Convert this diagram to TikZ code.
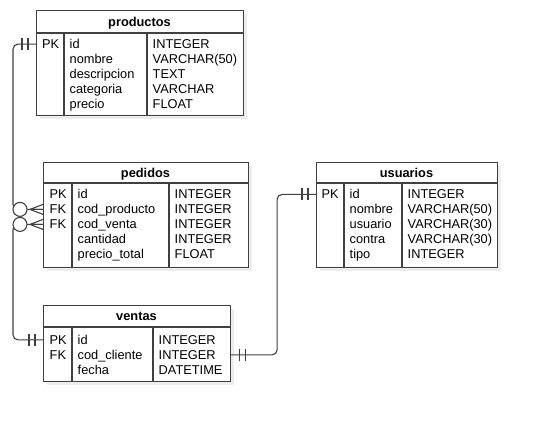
\documentclass[tikz,border=0pt]{standalone}
\usepackage{fontspec}
\setmainfont{Liberation Sans}
\definecolor{ercol}{RGB}{64,64,64}
\newcommand{\barmark}[2]{\draw[tick] ([xshift=#2]#1) ++(0,-6) -- ++(0,12);}
\newcommand{\zeromany}[1]{%
  \draw[tick] ([xshift=-13pt]#1) -- ([yshift=5pt]#1)
              ([xshift=-13pt]#1) -- (#1)
              ([xshift=-13pt]#1) -- ([yshift=-5pt]#1);
  \draw[tick,fill=white] ([xshift=-23pt]#1) circle (7pt);}
\begin{document}
\begin{tikzpicture}[x=1pt,y=-1pt,
    tbl/.style={draw=ercol,fill=white,line width=1.1pt,inner sep=0pt,anchor=north west},
    shade/.style={fill=black!7},
    cell/.style={inner sep=0pt,anchor=base west,font=\fontsize{12.8}{15}\selectfont},
    head/.style={inner sep=0pt,anchor=base,font=\bfseries\fontsize{12.8}{15}\selectfont},
    conn/.style={draw=ercol,line width=1.1pt,rounded corners=5pt},
    tick/.style={draw=ercol,line width=1.1pt}]
\useasboundingbox[fill=white] (0,0) rectangle (537,421);

% productos
\fill[shade] (40,14) rectangle (247,119);
\node[tbl,minimum width=207pt,minimum height=105pt] (prod) at (36,10) {};
\draw[tick] (36,33) -- (243,33) (64,33) -- (64,115) (147,33) -- (147,115);
\node[head] (prod-title) at (139.5,26) {productos};
\foreach \k/\n/\t [count=\i from 0] in {PK/id/INTEGER, /nombre/VARCHAR(50),
    /descripcion/TEXT, /categoria/VARCHAR, /precio/FLOAT}{
  \node[cell] (prod-k\i) at (42,48.5+15*\i) {\k};
  \node[cell] (prod-n\i) at (69.5,48.5+15*\i) {\n};
  \node[cell] (prod-t\i) at (152.5,48.5+15*\i) {\t};
}

% pedidos
\fill[shade] (47,166) rectangle (252,271);
\node[tbl,minimum width=205pt,minimum height=105pt] (ped) at (43,162) {};
\draw[tick] (43,183) -- (248,183) (72,183) -- (72,267) (169,183) -- (169,267);
\node[head] (ped-title) at (145.5,177) {pedidos};
\foreach \k/\n/\t [count=\i from 0] in {PK/id/INTEGER, FK/cod\_producto/INTEGER,
    FK/cod\_venta/INTEGER, /cantidad/INTEGER, /precio\_total/FLOAT}{
  \node[cell] (ped-k\i) at (49.5,198.8+15*\i) {\k};
  \node[cell] (ped-n\i) at (77.5,198.8+15*\i) {\n};
  \node[cell] (ped-t\i) at (174.5,198.8+15*\i) {\t};
}

% ventas
\fill[shade] (47,309) rectangle (234,385);
\node[tbl,minimum width=187pt,minimum height=76pt] (vent) at (43,305) {};
\draw[tick] (43,327) -- (230,327) (72,327) -- (72,381) (153,327) -- (153,381);
\node[head] (vent-title) at (136.5,320.5) {ventas};
\foreach \k/\n/\t [count=\i from 0] in {PK/id/INTEGER, FK/cod\_cliente/INTEGER,
    /fecha/DATETIME}{
  \node[cell] (vent-k\i) at (49.5,344.3+15*\i) {\k};
  \node[cell] (vent-n\i) at (77.5,344.3+15*\i) {\n};
  \node[cell] (vent-t\i) at (158.5,344.3+15*\i) {\t};
}

% usuarios
\fill[shade] (320,166) rectangle (501,271);
\node[tbl,minimum width=181pt,minimum height=105pt] (usua) at (316,162) {};
\draw[tick] (316,183) -- (497,183) (344,183) -- (344,267) (402,183) -- (402,267);
\node[head] (usua-title) at (406.5,177) {usuarios};
\foreach \k/\n/\t [count=\i from 0] in {PK/id/INTEGER, /nombre/VARCHAR(50),
    /usuario/VARCHAR(30), /contra/VARCHAR(30), /tipo/INTEGER}{
  \node[cell] (usua-k\i) at (321.5,198.8+15*\i) {\k};
  \node[cell] (usua-n\i) at (349.5,198.8+15*\i) {\n};
  \node[cell] (usua-t\i) at (407.5,198.8+15*\i) {\t};
}

% relaciones
\coordinate (prod-pk) at (prod.west |- prod-k0);
\coordinate (ped-fk1) at (ped.west |- ped-k1);
\coordinate (ped-fk2) at (ped.west |- ped-k2);
\coordinate (vent-pk) at (vent.west |- vent-k0);
\coordinate (vent-fk) at (vent.east |- vent-k1);
\coordinate (usua-pk) at (usua.west |- usua-k0);
\draw[conn] (prod-pk) -- ++(-23,0) |- (ped-fk1);
\draw[conn] (vent-pk) -- ++(-30,0) |- (ped-fk2);
\draw[conn] (vent-fk) -- ++(46,0) |- (usua-pk);
\barmark{prod-pk}{-8pt} \barmark{prod-pk}{-14pt}
\barmark{vent-pk}{-8pt} \barmark{vent-pk}{-14pt}
\barmark{vent-fk}{8pt} \barmark{vent-fk}{14pt}
\barmark{usua-pk}{-8pt} \barmark{usua-pk}{-14pt}
\zeromany{ped-fk1}
\zeromany{ped-fk2}
\end{tikzpicture}
\end{document}
